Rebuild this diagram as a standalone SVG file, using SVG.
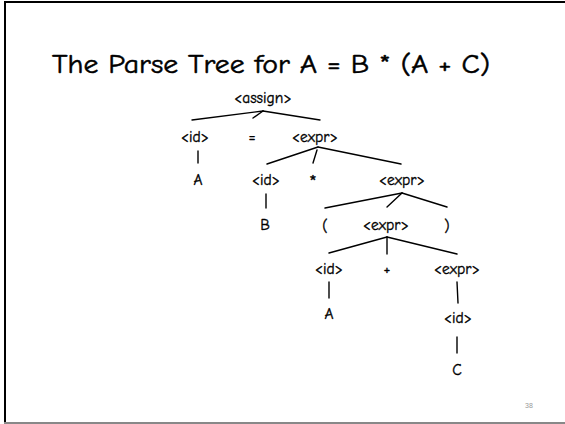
<svg xmlns="http://www.w3.org/2000/svg" width="565" height="424" viewBox="0 0 565 424">
<style>
.t{font-family:"Comic Sans MS","Comic Neue","Liberation Sans",sans-serif;font-size:15.5px;fill:#000;stroke:#000;stroke-width:0.35;text-anchor:middle}
.title{font-family:"Comic Sans MS","Comic Neue","Liberation Sans",sans-serif;font-size:26px;fill:#000;stroke:#000;stroke-width:0.5}
.e line{stroke:#000;stroke-width:1.4;stroke-linecap:round}
</style>
<rect x="0" y="0" width="565" height="424" fill="#fff"/>
<g id="frame">
<line x1="4" y1="2" x2="565" y2="2" stroke="#000" stroke-width="2"/>
<line x1="5" y1="2" x2="5" y2="423" stroke="#000" stroke-width="2"/>
<line x1="4" y1="423" x2="565" y2="423" stroke="#888" stroke-width="2"/>
</g>
<text class="title" x="52" y="73" textLength="438" lengthAdjust="spacingAndGlyphs">The Parse Tree for A = B * (A + C)</text>
<g class="e" id="connectors">
<line x1="263" y1="111" x2="192" y2="120"/>
<line x1="263" y1="111" x2="253" y2="118"/>
<line x1="263" y1="111" x2="320" y2="120"/>
<line x1="198" y1="151" x2="198" y2="163"/>
<line x1="318" y1="147" x2="267" y2="164"/>
<line x1="317" y1="150" x2="313" y2="163"/>
<line x1="318" y1="147" x2="401" y2="164"/>
<line x1="266" y1="194" x2="266" y2="208"/>
<line x1="402" y1="193" x2="325" y2="208"/>
<line x1="402" y1="193" x2="387" y2="207"/>
<line x1="402" y1="193" x2="447" y2="207"/>
<line x1="387" y1="237" x2="329" y2="253"/>
<line x1="387" y1="237" x2="387" y2="254"/>
<line x1="387" y1="237" x2="457" y2="254"/>
<line x1="329" y1="282" x2="329" y2="298"/>
<line x1="457" y1="282" x2="458" y2="303"/>
<line x1="457" y1="337" x2="457" y2="353"/>
</g>
<g id="n-assign"><text class="t" x="263" y="103">&lt;assign&gt;</text></g>
<g id="n-id1"><text class="t" x="195" y="142">&lt;id&gt;</text></g>
<g id="n-eq"><text class="t" x="252" y="142">=</text></g>
<g id="n-expr1"><text class="t" x="315" y="142">&lt;expr&gt;</text></g>
<g id="n-A1"><text class="t" x="198" y="185">A</text></g>
<g id="n-id2"><text class="t" x="266" y="185">&lt;id&gt;</text></g>
<g id="n-star"><text class="t" x="313" y="189" style="font-size:20px">*</text></g>
<g id="n-expr2"><text class="t" x="402" y="185">&lt;expr&gt;</text></g>
<g id="n-B"><text class="t" x="265" y="230">B</text></g>
<g id="n-lp"><text class="t" x="325" y="231">(</text></g>
<g id="n-expr3"><text class="t" x="386" y="230">&lt;expr&gt;</text></g>
<g id="n-rp"><text class="t" x="447" y="231">)</text></g>
<g id="n-id3"><text class="t" x="329" y="274">&lt;id&gt;</text></g>
<g id="n-plus"><text class="t" x="387" y="274">+</text></g>
<g id="n-expr4"><text class="t" x="457" y="274">&lt;expr&gt;</text></g>
<g id="n-A2"><text class="t" x="329" y="319">A</text></g>
<g id="n-id4"><text class="t" x="458" y="323">&lt;id&gt;</text></g>
<g id="n-C"><text class="t" x="457" y="375">C</text></g>
<text x="529" y="408" font-family="Liberation Sans,sans-serif" font-size="7" fill="#999" text-anchor="middle">38</text>
</svg>
